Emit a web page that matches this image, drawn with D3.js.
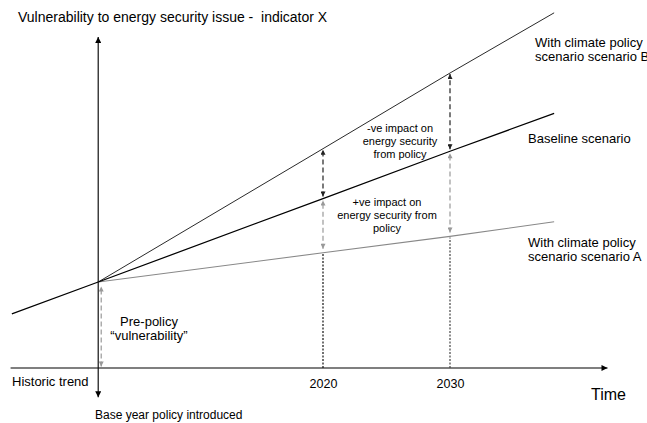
<!DOCTYPE html>
<html>
<head>
<meta charset="utf-8">
<script src="https://cdn.jsdelivr.net/npm/d3@7"></script>
<style>
  body { margin: 0; background: #fff; }
  svg text { font-family: "Liberation Sans", Arial, sans-serif; fill: #000; }
</style>
</head>
<body>
<svg id="chart" width="647" height="423"></svg>
<script>
// values (time in years, vulnerability in arbitrary units)
const baseYear = 2002.3;
const historicYears = [1995.5, 2002.3];
const historicValues = [6.3, 10.0];
const scenarioYears = [2002.3, 2020, 2030, 2038.2];
const baselineValues = [10.0, 19.7, 25.2, 29.6];
const scenarioBValues = [10.0, 25.5, 34.3, 41.3];
const scenarioAValues = [10.0, 13.4, 15.3, 17.0];
const tickYears = [2020, 2030];
const tickLabels = ["2020", "2030"];

var svg = d3.select("#chart");

var x = d3.scaleLinear()
    .domain([1995, 2045])
    .range([5.5, 640.5]);
var y = d3.scaleLinear()
    .domain([0, 42])
    .range([368, 6.8]);

// arrow heads
var defs = svg.append("defs");
function marker(id, color, w, h) {
    defs.append("marker")
        .attr("id", id)
        .attr("viewBox", "0 0 10 10")
        .attr("refX", 10).attr("refY", 5)
        .attr("markerUnits", "userSpaceOnUse")
        .attr("markerWidth", w).attr("markerHeight", h)
        .attr("orient", "auto-start-reverse")
        .append("path")
        .attr("d", "M0,0 L10,5 L0,10 z")
        .attr("fill", color);
}
marker("ax", "#000", 7, 6);
marker("blk", "#222", 6, 5);
marker("gry", "#999", 6, 5);

// axes
svg.append("line")
    .attr("x1", x(1995.4)).attr("x2", x(2042.4))
    .attr("y1", y(0)).attr("y2", y(0))
    .attr("stroke", "#555").attr("stroke-width", 1.5)
    .attr("marker-end", "url(#ax)");
svg.append("line")
    .attr("x1", x(baseYear)).attr("x2", x(baseYear))
    .attr("y1", y(-3.4)).attr("y2", y(38.5))
    .attr("stroke", "#111").attr("stroke-width", 1.2)
    .attr("marker-start", "url(#ax)")
    .attr("marker-end", "url(#ax)");

var xAxis = svg.append("g")
    .attr("transform", "translate(0," + y(0) + ")")
    .call(d3.axisBottom(x).tickValues(tickYears)
        .tickFormat(function (d, i) { return tickLabels[i]; })
        .tickSize(0).tickPadding(11));
xAxis.select(".domain").remove();
xAxis.selectAll("text")
    .style("font-family", "Liberation Sans, Arial, sans-serif")
    .style("font-size", "12.5px").attr("fill", "#000");

// scenario lines
var line = d3.line()
    .x(function (d) { return x(d[0]); })
    .y(function (d) { return y(d[1]); });
function pairs(xs, ys) { return xs.map(function (v, i) { return [v, ys[i]]; }); }

svg.append("path").datum(pairs(scenarioYears, scenarioAValues))
    .attr("d", line).attr("fill", "none")
    .attr("stroke", "#888").attr("stroke-width", 1.1);
svg.append("path").datum(pairs(scenarioYears, scenarioBValues))
    .attr("d", line).attr("fill", "none")
    .attr("stroke", "#2a2a2a").attr("stroke-width", 1);
svg.append("path").datum(pairs(historicYears, historicValues).concat(pairs(scenarioYears, baselineValues).slice(1)))
    .attr("d", line).attr("fill", "none")
    .attr("stroke", "#000").attr("stroke-width", 1.25);

// impact arrows at 2020 and 2030
tickYears.forEach(function (yr) {
    var i = scenarioYears.indexOf(yr);
    var px = x(yr);
    svg.append("line")
        .attr("x1", px).attr("x2", px)
        .attr("y1", y(0)).attr("y2", y(scenarioAValues[i]) + 1)
        .attr("stroke", i == 1 ? "#111" : "#444").attr("stroke-width", 1.2)
        .attr("stroke-dasharray", "2,1.5");
    svg.append("line")
        .attr("x1", px).attr("x2", px)
        .attr("y1", y(scenarioAValues[i]) - 4).attr("y2", y(baselineValues[i]) + 2)
        .attr("stroke", "#999").attr("stroke-width", 1.2)
        .attr("stroke-dasharray", "5,3")
        .attr("marker-start", "url(#gry)").attr("marker-end", "url(#gry)");
    svg.append("line")
        .attr("x1", px).attr("x2", px)
        .attr("y1", y(baselineValues[i]) - 2).attr("y2", y(scenarioBValues[i]) + 1)
        .attr("stroke", "#222").attr("stroke-width", 1.2)
        .attr("stroke-dasharray", "5,3")
        .attr("marker-start", "url(#blk)").attr("marker-end", "url(#blk)");
});

// pre-policy arrow
svg.append("line")
    .attr("x1", x(baseYear) + 3).attr("x2", x(baseYear) + 3)
    .attr("y1", y(0) - 1.5).attr("y2", y(historicValues[1]) + 4.5)
    .attr("stroke", "#999").attr("stroke-width", 1.2)
    .attr("stroke-dasharray", "5,3")
    .attr("marker-start", "url(#gry)").attr("marker-end", "url(#gry)");

// labels
function label(lines, px, py, size, anchor, gap) {
    var t = svg.append("text")
        .attr("x", px).attr("y", py)
        .attr("text-anchor", anchor || "start")
        .style("font-size", size + "px");
    lines.forEach(function (s, k) {
        t.append("tspan").attr("x", px).attr("y", py + k * (gap || size + 1)).text(s);
    });
}
label(["Vulnerability to energy security issue -\u00a0 indicator X"], 18, 22, 14);
label(["With climate policy", "scenario scenario B"], 535, 46.5, 13, "start", 14);
label(["Baseline scenario"], 528, 142.5, 13);
label(["With climate policy", "scenario scenario A"], 528, 246.5, 13, "start", 14);
label(["-ve impact on", "energy security", "from policy"], 400, 131.5, 11, "middle", 13);
label(["+ve impact on", "energy security from", "policy"], 387, 205.5, 11, "middle", 13);
label(["Pre-policy", "\u201cvulnerability\u201d"], 149, 326, 13, "middle", 13.5);
label(["Historic trend"], 12, 386, 13);
label(["Base year policy introduced"], 95, 419, 12);
label(["Time"], 591, 400, 16);
</script>
</body>
</html>
